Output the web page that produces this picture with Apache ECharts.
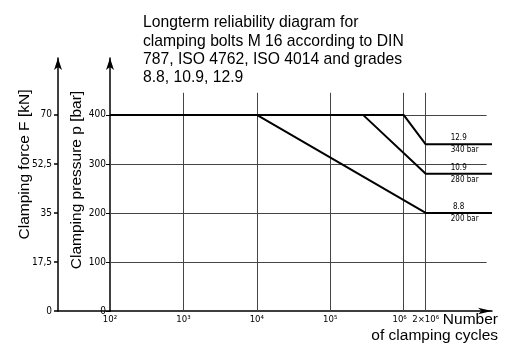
<!DOCTYPE html>
<html>
<head>
    <meta charset="utf-8">
    <title>Longterm reliability diagram</title>
    <script src="https://cdn.jsdelivr.net/npm/echarts@6/dist/echarts.min.js"></script>
</head>
<body style="margin:0;background:#fff">
<div id="main" style="width:506px;height:345px;"></div>
<script type="text/javascript">
    // data
    var xTicks = [100, 1e3, 1e4, 1e5, 1e6, 2e6];
    var xTickLabels = ['10²', '10³', '10⁴', '10⁵', '10⁶', '2×10⁶'];
    var pressureTicks = [0, 100, 200, 300, 400];
    var forceTicks = [0, 17.5, 35, 52.5, 70];

    var cycles88 = [100, 1e4, 2e6, 1.6e7];
    var bar88 = [400, 400, 200, 200];
    var cycles109 = [100, 2.8e5, 2e6, 1.6e7];
    var bar109 = [400, 400, 280, 280];
    var cycles129 = [100, 1e6, 2e6, 1.6e7];
    var bar129 = [400, 400, 340, 340];

    var grades = ['8.8', '10.9', '12.9'];
    var gradeBars = ['200 bar', '280 bar', '340 bar'];
    var gradeLevels = [200, 280, 340];

    var gridRows = [100, 200, 300, 400];
    var gridCols = [1e3, 1e4, 1e5, 1e6, 2e6];

    var xMin = 100, xMax = 1.6e7, rowEnd = 1.35e7;
    var pMax = 516, colTop = 445;
    var fMax = pMax * 0.175;

    function pairs(xs, ys) {
        var out = [];
        for (var i = 0; i < xs.length; i++) out.push([xs[i], ys[i]]);
        return out;
    }

    var gridLines = [];
    gridRows.forEach(function (v) {
        gridLines.push([{coord: [xMin, v]}, {coord: [rowEnd, v]}]);
    });
    gridCols.forEach(function (v) {
        gridLines.push([{coord: [v, 0]}, {coord: [v, colTop]}]);
    });

    function gradeSeries(name, xs, ys, k) {
        return {
            name: name,
            type: 'line',
            xAxisIndex: 0,
            yAxisIndex: 0,
            data: pairs(xs, ys),
            symbol: 'none',
            lineStyle: {color: '#000', width: 2},
            z: 5,
            markPoint: {
                symbol: 'circle',
                symbolSize: 0,
                silent: true,
                data: [{coord: [6.8e6, gradeLevels[k]]}],
                label: {
                    show: true,
                    position: 'inside',
                    formatter: '{g|' + grades[k] + '}\n{b|' + gradeBars[k] + '}',
                    rich: {
                        g: {fontSize: 8, lineHeight: 12, color: '#000', padding: [0, 12, 0, 0],
                            fontFamily: 'DejaVu Sans Condensed'},
                        b: {fontSize: 8, lineHeight: 12, color: '#000',
                            fontFamily: 'DejaVu Sans Condensed'}
                    }
                }
            }
        };
    }

    var myChart = echarts.init(document.getElementById('main'));

    var axisText = {color: '#000', fontSize: 10, fontFamily: 'DejaVu Sans Condensed'};

    myChart.setOption({
        animation: false,
        backgroundColor: '#fff',
        title: [{
            text: 'Longterm reliability diagram for\nclamping bolts M 16 according to DIN\n787, ISO 4762, ISO 4014 and grades\n8.8, 10.9, 12.9',
            left: 138,
            top: 9,
            textStyle: {fontSize: 15.7, fontWeight: 'normal', color: '#000', lineHeight: 18.3,
                fontFamily: 'Liberation Sans'}
        }, {
            text: 'Number\nof clamping cycles',
            left: 493,
            top: 307,
            textAlign: 'right',
            textStyle: {fontSize: 15.5, fontWeight: 'normal', color: '#000', lineHeight: 16,
                fontFamily: 'Liberation Sans'}
        }],
        grid: [
            {left: 110, right: 14, top: 58, bottom: 34},
            {left: 58, width: 52, top: 58, bottom: 34}
        ],
        xAxis: [{
            gridIndex: 0,
            type: 'log',
            logBase: 10,
            min: xMin,
            max: xMax,
            axisLine: {show: true, symbol: ['none', 'arrow'], symbolSize: [5, 14],
                lineStyle: {color: '#000', width: 1.5}},
            axisTick: {show: false},
            splitLine: {show: false},
            minorTick: {show: false},
            axisLabel: {
                customValues: xTicks,
                hideOverlap: false,
                showMaxLabel: true,
                margin: 4,
                color: '#000',
                fontSize: 9.5,
                fontFamily: 'DejaVu Sans Condensed',
                rich: {
                    a: {fontSize: 9.5, fontFamily: 'DejaVu Sans Condensed', color: '#000', padding: [0, 8, 0, 0]}
                },
                formatter: function (v) {
                    for (var i = 0; i < xTicks.length; i++) {
                        if (Math.abs(v - xTicks[i]) / xTicks[i] < 1e-6) {
                            if (i === 4) return '{a|' + xTickLabels[i] + '}';
                            return xTickLabels[i];
                        }
                    }
                    return '';
                }
            }
        }, {
            gridIndex: 1,
            type: 'value',
            min: 0,
            max: 1,
            axisLine: {show: true, lineStyle: {color: '#000', width: 1.5}},
            axisTick: {show: false},
            axisLabel: {show: false},
            splitLine: {show: false}
        }],
        yAxis: [{
            gridIndex: 0,
            type: 'value',
            min: 0,
            max: pMax,
            name: 'Clamping pressure p [bar]',
            nameLocation: 'middle',
            nameGap: 25,
            nameMoveOverlap: false,
            nameRotate: 90,
            nameTextStyle: {fontSize: 15.5, color: '#000', fontFamily: 'Liberation Sans',
                padding: [0, 0, 0, 9]},
            axisLine: {show: true, symbol: ['none', 'arrow'], symbolSize: [6, 12],
                lineStyle: {color: '#000', width: 1.5}},
            axisTick: {show: true, customValues: pressureTicks, length: 4,
                lineStyle: {color: '#000'}},
            axisLabel: Object.assign({customValues: pressureTicks, margin: 4}, axisText),
            splitLine: {show: false}
        }, {
            gridIndex: 1,
            type: 'value',
            min: 0,
            max: fMax,
            name: 'Clamping force F [kN]',
            nameLocation: 'middle',
            nameGap: 25,
            nameMoveOverlap: false,
            nameRotate: 90,
            nameTextStyle: {fontSize: 15.5, color: '#000', fontFamily: 'Liberation Sans',
                padding: [0, 0, 0, 40]},
            axisLine: {show: true, symbol: ['none', 'arrow'], symbolSize: [6, 12],
                lineStyle: {color: '#000', width: 1.5}},
            axisTick: {show: true, customValues: forceTicks, length: 4,
                lineStyle: {color: '#000', width: 1.5}},
            axisLabel: Object.assign({
                customValues: forceTicks, margin: 6,
                formatter: function (v) { return String(v).replace('.', ','); }
            }, axisText),
            splitLine: {show: false}
        }],
        series: [{
            name: 'grid',
            type: 'line',
            xAxisIndex: 0,
            yAxisIndex: 0,
            data: [],
            markLine: {
                silent: true,
                symbol: ['none', 'none'],
                label: {show: false},
                lineStyle: {color: '#444', width: 1, type: 'solid'},
                data: gridLines
            }
        },
            gradeSeries('8.8', cycles88, bar88, 0),
            gradeSeries('10.9', cycles109, bar109, 1),
            gradeSeries('12.9', cycles129, bar129, 2)
        ]
    });
</script>
</body>
</html>
